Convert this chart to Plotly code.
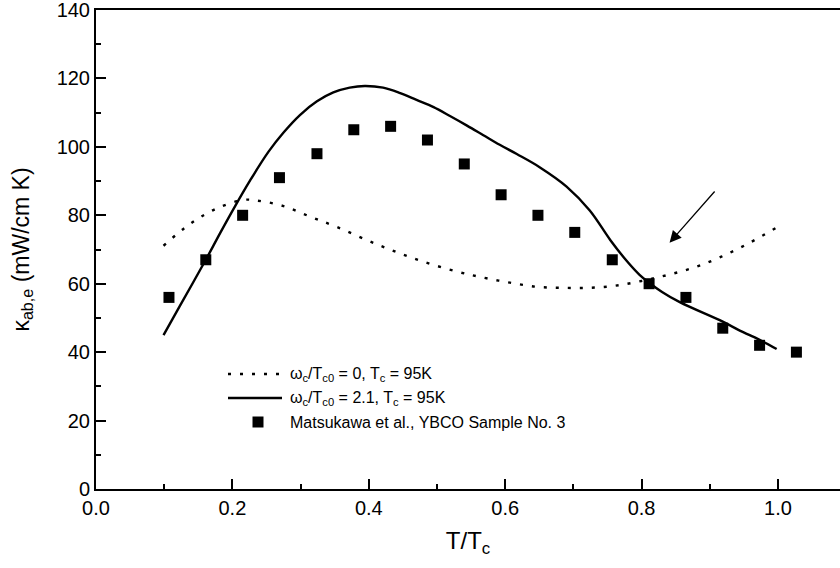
import plotly.graph_objects as go

# ---- data ----
t_data = [0.107, 0.161, 0.215, 0.269, 0.324, 0.378, 0.432, 0.486, 0.540, 0.594,
          0.648, 0.702, 0.757, 0.811, 0.865, 0.919, 0.973, 1.027]
k_data = [56, 67, 80, 91, 98, 105, 106, 102, 95, 86,
          80, 75, 67, 60, 56, 47, 42, 40]

t_solid = [0.099, 0.123, 0.161, 0.182, 0.204, 0.226, 0.253, 0.275, 0.299, 0.324,
           0.348, 0.372, 0.394, 0.421, 0.446, 0.470, 0.495, 0.519, 0.544, 0.568,
           0.592, 0.617, 0.651, 0.690, 0.724, 0.754, 0.778, 0.797, 0.811, 0.830,
           0.856, 0.919, 0.944, 0.973, 0.998]
k_solid = [45.0, 53.5, 67.0, 74.8, 82.7, 90.2, 98.6, 104.2, 109.3, 113.3,
           115.9, 117.3, 117.8, 117.3, 115.7, 113.7, 111.6, 109.0, 106.2, 103.4,
           100.6, 97.9, 94.0, 88.4, 81.4, 72.8, 66.7, 62.6, 60.3, 57.6,
           54.6, 48.9, 46.3, 43.6, 40.9]

t_dot = [0.099, 0.138, 0.177, 0.216, 0.236, 0.275, 0.314, 0.353, 0.412, 0.470,
         0.530, 0.570, 0.607, 0.646, 0.684, 0.723, 0.761, 0.800, 0.839, 0.878,
         0.917, 0.957, 0.997]
k_dot = [71.1, 77.5, 82.0, 84.5, 84.3, 82.7, 79.6, 76.6, 71.5, 67.1,
         63.5, 61.7, 60.3, 59.1, 58.8, 58.8, 59.4, 60.8, 62.6, 64.8,
         67.9, 71.8, 76.3]

legend_labels = [
    "ω<sub>c</sub>/T<sub>c0</sub> = 0, T<sub>c</sub> = 95K",
    "ω<sub>c</sub>/T<sub>c0</sub> = 2.1, T<sub>c</sub> = 95K",
    "Matsukawa et al., YBCO Sample No. 3",
]

# arrow (head, tail) in data coordinates
arrow_head = (0.841, 72.0)
arrow_tail = (0.909, 87.4)

FONT = "Arial, 'Liberation Sans', sans-serif"

FIG_W, FIG_H = 840, 568
L, T, H = 96, 10, 479
W = FIG_W - L
B = FIG_H - T - H

fig = go.Figure()
fig.add_trace(go.Scatter(x=t_dot, y=k_dot, mode="lines", line_shape="spline",
                         line=dict(color="black", width=2.4, dash="3px,9px"),
                         showlegend=False))
fig.add_trace(go.Scatter(x=t_solid, y=k_solid, mode="lines", line_shape="spline",
                         line=dict(color="black", width=2.4),
                         showlegend=False))
fig.add_trace(go.Scatter(x=t_data, y=k_data, mode="markers",
                         marker=dict(symbol="square", size=11, color="black",
                                     line=dict(width=0)),
                         showlegend=False))

# custom legend (positions given in page pixels of the reference)
def px(x):
    return (x - L) / W
def py(y):
    return (T + H - y) / H

rows = [374, 398, 422]
shapes = [
    dict(type="line", xref="paper", yref="paper", x0=px(228), x1=px(282),
         y0=py(rows[0]), y1=py(rows[0]),
         line=dict(color="black", width=2.4, dash="3px,9px")),
    dict(type="line", xref="paper", yref="paper", x0=px(228), x1=px(282),
         y0=py(rows[1]), y1=py(rows[1]),
         line=dict(color="black", width=2.4)),
    dict(type="rect", xref="paper", yref="paper", xsizemode="pixel", ysizemode="pixel",
         xanchor=px(258), yanchor=py(rows[2]), x0=-5.5, x1=5.5, y0=-5.5, y1=5.5,
         fillcolor="black", line=dict(width=0)),
]
annotations = []
for r, lab in zip(rows, legend_labels):
    annotations.append(dict(xref="paper", yref="paper", x=px(288), y=py(r),
                            xanchor="left", yanchor="middle", text=lab,
                            showarrow=False, font=dict(size=16, color="black", family=FONT)))

annotations.append(dict(x=arrow_head[0], y=arrow_head[1], ax=arrow_tail[0], ay=arrow_tail[1],
                        xref="x", yref="y", axref="x", ayref="y", text="",
                        showarrow=True, arrowhead=2, arrowsize=1.8, arrowwidth=1.3,
                        arrowcolor="black", standoff=0, startstandoff=0))

fig.update_layout(
    width=FIG_W, height=FIG_H,
    margin=dict(l=L, r=0, t=T, b=B, pad=0),
    paper_bgcolor="white", plot_bgcolor="white",
    font=dict(family=FONT, color="black", size=20),
    shapes=shapes, annotations=annotations,
    showlegend=False,
)
fig.update_xaxes(range=[0, W / 682], dtick=0.2, tick0=0, tickformat=".1f",
                 ticks="inside", ticklen=10, tickwidth=2, tickcolor="black",
                 minor=dict(ticks="inside", ticklen=5, tickwidth=2, dtick=0.1, tickcolor="black"),
                 showline=True, linewidth=2, linecolor="black", mirror=True,
                 showgrid=False, zeroline=False, ticklabeloverflow="allow",
                 tickfont=dict(size=20),
                 title=dict(text="T/T<sub>c</sub>", font=dict(size=24), standoff=14))
fig.update_yaxes(range=[0, 140], dtick=20, tick0=0,
                 ticks="inside", ticklen=10, tickwidth=2, tickcolor="black",
                 minor=dict(ticks="inside", ticklen=5, tickwidth=2, dtick=10, tickcolor="black"),
                 showline=True, linewidth=2, linecolor="black", mirror=False,
                 showgrid=False, zeroline=False, ticklabeloverflow="allow",
                 tickfont=dict(size=20),
                 title=dict(text="κ<sub>ab,e</sub> (mW/cm K)", font=dict(size=23), standoff=21))

fig.write_html("out.html",
               config={"displayModeBar": False, "staticPlot": True},
               post_script="document.body.style.margin='0px';document.body.style.overflow='hidden';")
